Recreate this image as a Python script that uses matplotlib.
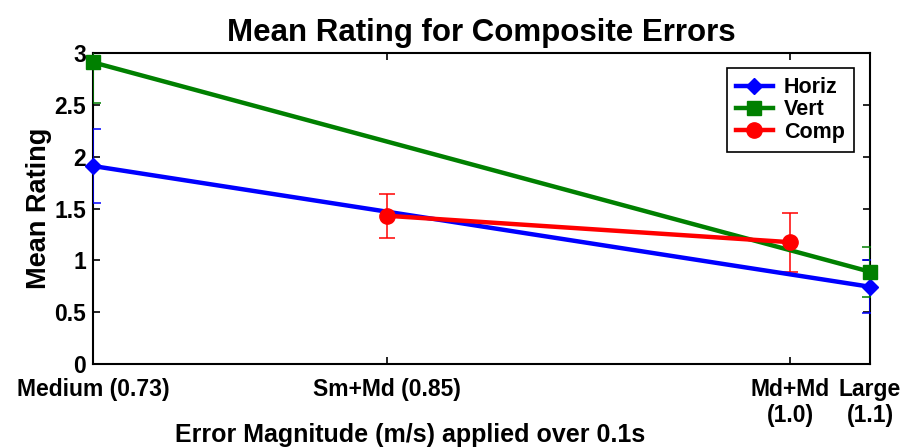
import matplotlib
matplotlib.use("Agg")
import matplotlib.pyplot as plt

plt.rcParams['font.family'] = ['Liberation Sans', 'DejaVu Sans']
plt.rcParams['font.weight'] = 'bold'

# Data
tick_pos = [0.73, 0.87, 1.062, 1.1]
tick_labels = ["Medium (0.73)", "Sm+Md (0.85)", "Md+Md\n(1.0)", "Large\n(1.1)"]

horiz_x = [0.73, 1.1]
horiz_y = [1.91, 0.745]
horiz_err = [0.355, 0.255]

vert_x = [0.73, 1.1]
vert_y = [2.91, 0.89]
vert_err = [0.39, 0.24]

comp_x = [0.87, 1.062]
comp_y = [1.43, 1.175]
comp_err = [0.21, 0.285]

series = [
    ("Horiz", horiz_x, horiz_y, horiz_err, (0, 0, 1), 'D', 8),
    ("Vert", vert_x, vert_y, vert_err, (0, 0.5, 0), 's', 10),
    ("Comp", comp_x, comp_y, comp_err, (1, 0, 0), 'o', 11),
]

fig = plt.figure(figsize=(9.12, 4.47), dpi=100)
ax = fig.add_axes([93/912, 1-364/447, (870-93)/912, (364-53)/447])

for name, x, y, e, c, m, ms in series:
    ax.errorbar(x, y, yerr=e, fmt='none', ecolor=c, elinewidth=1.1,
                capsize=5.5, capthick=1.1, zorder=3, clip_on=True)
    ax.plot(x, y, color=c, lw=3.2, marker=m, markersize=ms, label=name,
            zorder=4, clip_on=False)

ax.set_xlim(0.73, 1.1)
ax.set_ylim(0, 3)
ax.set_xticks(tick_pos)
ax.set_xticklabels(tick_labels)
ax.set_yticks([0, 0.5, 1, 1.5, 2, 2.5, 3])
ax.set_yticklabels(["0", "0.5", "1", "1.5", "2", "2.5", "3"])
ax.tick_params(direction='in', length=5, width=1.2, labelsize=16.5,
               top=True, right=True)
ax.tick_params(axis='x', pad=10)
ax.tick_params(axis='y', pad=5)
for s in ax.spines.values():
    s.set_linewidth(1.5)

ax.set_title("Mean Rating for Composite Errors", fontsize=22.5, fontweight='bold', pad=9)
ax.set_xlabel("Error Magnitude (m/s) applied over 0.1s", fontsize=18, fontweight='bold')
ax.xaxis.set_label_coords((410-93)/777, -(435-364)/311)
ax.xaxis.label.set_va('center')
ax.set_ylabel("Mean Rating", fontsize=19.5, fontweight='bold')
ax.yaxis.set_label_coords(-(93-39)/777, 0.5)
ax.yaxis.label.set_va('center')

leg = ax.legend(loc='upper right', bbox_to_anchor=(854/912, 1-68/447),
                bbox_transform=fig.transFigure, borderaxespad=0,
                fontsize=15.5, fancybox=False, framealpha=1, edgecolor='black',
                handlelength=1.75, handletextpad=0.5, labelspacing=0.06,
                borderpad=0.42)
leg.get_frame().set_linewidth(1.2)
for t in leg.get_texts():
    t.set_fontweight('bold')

fig.savefig("out.png", dpi=100)
